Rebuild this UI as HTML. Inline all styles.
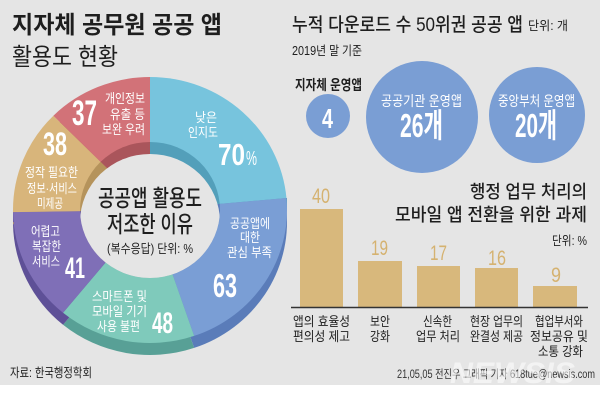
<!DOCTYPE html>
<html><head><meta charset="utf-8">
<style>
html,body{margin:0;padding:0;background:#fff;}
svg{display:block;}
text{font-family:"Liberation Sans","Noto Sans CJK KR",sans-serif;}
.w{fill:#fff;}
.d{fill:#1e1e1e;}
</style></head>
<body>
<svg width="600" height="402" viewBox="0 0 600 402" xmlns="http://www.w3.org/2000/svg">
<defs>
<clipPath id="hole"><ellipse cx="150" cy="210" rx="70" ry="68"/></clipPath>
</defs>
<rect x="0" y="0" width="600" height="385" fill="#e5e5e5"/>
<rect x="0" y="385" width="600" height="17" fill="#ffffff"/>

<!-- rim -->
<g>
<path d="M150,222 L150,89 A137,133 0 0 1 286.45,210.06 Z" fill="#539fba"/>
<path d="M150,222 L286.45,210.06 A137,133 0 0 1 194.12,347.91 Z" fill="#5a7cb9"/>
<path d="M150,222 L194.12,347.91 A137,133 0 0 1 63.05,324.78 Z" fill="#58a096"/>
<path d="M150,222 L63.05,324.78 A137,133 0 0 1 13.02,224.11 Z" fill="#5e5097"/>
<path d="M150,222 L13.02,224.11 A137,133 0 0 1 53.38,127.71 Z" fill="#b5935b"/>
<path d="M150,222 L53.38,127.71 A137,133 0 0 1 150,89 Z" fill="#aa555b"/>
<rect x="13" y="210" width="4" height="12" fill="#5e5097"/>
<rect x="283" y="198" width="4" height="12" fill="#539fba"/>
</g>
<!-- top face -->
<g>
<path d="M150,210 L150,77 A137,133 0 0 1 286.45,198.06 Z" fill="#77c4dd"/>
<path d="M150,210 L286.45,198.06 A137,133 0 0 1 194.12,335.91 Z" fill="#7a9ed5"/>
<path d="M150,210 L194.12,335.91 A137,133 0 0 1 63.05,312.78 Z" fill="#7fcabb"/>
<path d="M150,210 L63.05,312.78 A137,133 0 0 1 13.02,212.11 Z" fill="#7f6fb7"/>
<path d="M150,210 L13.02,212.11 A137,133 0 0 1 53.38,115.71 Z" fill="#d8b57b"/>
<path d="M150,210 L53.38,115.71 A137,133 0 0 1 150,77 Z" fill="#d27278"/>
</g>
<!-- hole -->
<g clip-path="url(#hole)">
<path d="M150,210 L150,77 A137,133 0 0 1 286.45,198.06 Z" fill="#539fba"/>
<path d="M150,210 L286.45,198.06 A137,133 0 0 1 194.12,335.91 Z" fill="#5a7cb9"/>
<path d="M150,210 L194.12,335.91 A137,133 0 0 1 63.05,312.78 Z" fill="#58a096"/>
<path d="M150,210 L63.05,312.78 A137,133 0 0 1 13.02,212.11 Z" fill="#5e5097"/>
<path d="M150,210 L13.02,212.11 A137,133 0 0 1 53.38,115.71 Z" fill="#b5935b"/>
<path d="M150,210 L53.38,115.71 A137,133 0 0 1 150,77 Z" fill="#aa555b"/>
<ellipse cx="150" cy="222" rx="70" ry="68" fill="#e5e5e5"/>
</g>

<!-- left titles -->
<text class="d" x="12" y="33" font-size="24" font-weight="bold" textLength="210" lengthAdjust="spacingAndGlyphs">지자체 공무원 공공 앱</text>
<text class="d" x="12" y="65" font-size="24" textLength="106" lengthAdjust="spacingAndGlyphs">활용도 현황</text>

<!-- donut labels -->
<text class="w" x="105" y="103" font-size="13" textLength="40" lengthAdjust="spacingAndGlyphs">개인정보</text>
<text class="w" x="110" y="119" font-size="13" textLength="35" lengthAdjust="spacingAndGlyphs">유출 등</text>
<text class="w" x="102" y="134" font-size="13" textLength="43" lengthAdjust="spacingAndGlyphs">보완 우려</text>
<text class="w" x="72" y="125" font-size="35" font-weight="bold" textLength="25" lengthAdjust="spacingAndGlyphs">37</text>

<text class="w" x="195" y="122" font-size="13" textLength="22" lengthAdjust="spacingAndGlyphs">낮은</text>
<text class="w" x="188" y="137" font-size="13" textLength="30" lengthAdjust="spacingAndGlyphs">인지도</text>
<text class="w" x="218" y="165" font-size="31" font-weight="bold" textLength="27" lengthAdjust="spacingAndGlyphs">70</text>
<text class="w" x="246" y="165" font-size="20" textLength="11" lengthAdjust="spacingAndGlyphs">%</text>

<text class="w" x="43" y="155" font-size="32" font-weight="bold" textLength="24" lengthAdjust="spacingAndGlyphs">38</text>
<text class="w" x="25" y="177" font-size="13" textLength="53" lengthAdjust="spacingAndGlyphs">정작 필요한</text>
<text class="w" x="27" y="193" font-size="13" textLength="50" lengthAdjust="spacingAndGlyphs">정보·서비스</text>
<text class="w" x="37" y="208" font-size="13" textLength="26" lengthAdjust="spacingAndGlyphs">미제공</text>

<text class="w" x="31" y="236" font-size="13" textLength="29" lengthAdjust="spacingAndGlyphs">어렵고</text>
<text class="w" x="32" y="251" font-size="13" textLength="29" lengthAdjust="spacingAndGlyphs">복잡한</text>
<text class="w" x="32" y="266" font-size="13" textLength="28" lengthAdjust="spacingAndGlyphs">서비스</text>
<text class="w" x="65" y="278" font-size="30" font-weight="bold" textLength="20" lengthAdjust="spacingAndGlyphs">41</text>

<text class="w" x="92" y="301" font-size="13" textLength="55" lengthAdjust="spacingAndGlyphs">스마트폰 및</text>
<text class="w" x="92" y="316" font-size="13" textLength="55" lengthAdjust="spacingAndGlyphs">모바일 기기</text>
<text class="w" x="97" y="331" font-size="13" textLength="43" lengthAdjust="spacingAndGlyphs">사용 불편</text>
<text class="w" x="152" y="333" font-size="30" font-weight="bold" textLength="21" lengthAdjust="spacingAndGlyphs">48</text>

<text class="w" x="230" y="228" font-size="13" textLength="40" lengthAdjust="spacingAndGlyphs">공공앱에</text>
<text class="w" x="240" y="242" font-size="13" textLength="20" lengthAdjust="spacingAndGlyphs">대한</text>
<text class="w" x="227" y="257" font-size="13" textLength="45" lengthAdjust="spacingAndGlyphs">관심 부족</text>
<text class="w" x="213" y="297" font-size="33" font-weight="bold" textLength="24" lengthAdjust="spacingAndGlyphs">63</text>

<!-- center -->
<text class="d" x="98" y="206" font-size="23" font-weight="500" textLength="104" lengthAdjust="spacingAndGlyphs">공공앱 활용도</text>
<text class="d" x="107" y="232" font-size="23" font-weight="500" textLength="86" lengthAdjust="spacingAndGlyphs">저조한 이유</text>
<text class="d" x="107" y="253" font-size="12.5" textLength="86" lengthAdjust="spacingAndGlyphs">(복수응답) 단위: %</text>

<text class="d" x="10" y="377" font-size="12.5" textLength="82" lengthAdjust="spacingAndGlyphs">자료: 한국행정학회</text>

<!-- right top -->
<text class="d" x="292" y="31" font-size="19" font-weight="500" textLength="231" lengthAdjust="spacingAndGlyphs">누적 다운로드 수 50위권 공공 앱</text>
<text class="d" x="528" y="30" font-size="12.5" textLength="40" lengthAdjust="spacingAndGlyphs">단위: 개</text>
<text class="d" x="292" y="55" font-size="12.5" textLength="70" lengthAdjust="spacingAndGlyphs">2019년 말 기준</text>
<text class="d" x="295" y="90" font-size="14" font-weight="bold" textLength="67" lengthAdjust="spacingAndGlyphs">지자체 운영앱</text>

<circle cx="328" cy="116" r="22" fill="#7a9ed4"/>
<circle cx="422" cy="117" r="56" fill="#7a9ed4"/>
<circle cx="537" cy="115" r="48" fill="#7a9ed4"/>
<text class="w" x="322" y="128" font-size="28" font-weight="bold" textLength="11" lengthAdjust="spacingAndGlyphs">4</text>
<text class="w" x="381" y="106" font-size="14" textLength="81" lengthAdjust="spacingAndGlyphs">공공기관 운영앱</text>
<text class="w" x="400" y="137" font-size="33" font-weight="bold" textLength="43" lengthAdjust="spacingAndGlyphs">26개</text>
<text class="w" x="498" y="106" font-size="14" textLength="77" lengthAdjust="spacingAndGlyphs">중앙부처 운영앱</text>
<text class="w" x="515" y="137" font-size="33" font-weight="bold" textLength="42" lengthAdjust="spacingAndGlyphs">20개</text>

<!-- bar chart -->
<text class="d" x="470" y="198" font-size="18" font-weight="500" textLength="117" lengthAdjust="spacingAndGlyphs">행정 업무 처리의</text>
<text class="d" x="395" y="221" font-size="18" font-weight="500" textLength="192" lengthAdjust="spacingAndGlyphs">모바일 앱 전환을 위한 과제</text>
<text class="d" x="552" y="245" font-size="12.5" textLength="35" lengthAdjust="spacingAndGlyphs">단위: %</text>

<rect x="300" y="209" width="43" height="98" fill="#d8b87c"/>
<rect x="358" y="261" width="44" height="46" fill="#d8b87c"/>
<rect x="417" y="266" width="43" height="41" fill="#d8b87c"/>
<rect x="475" y="268" width="43" height="39" fill="#d8b87c"/>
<rect x="533" y="286" width="44" height="21" fill="#d8b87c"/>
<line x1="291" y1="307.5" x2="588" y2="307.5" stroke="#333" stroke-width="1.5"/>

<g fill="#d5b270" font-size="21">
<text x="312" y="203" textLength="18" lengthAdjust="spacingAndGlyphs">40</text>
<text x="371" y="255" textLength="17" lengthAdjust="spacingAndGlyphs">19</text>
<text x="430" y="260" textLength="17" lengthAdjust="spacingAndGlyphs">17</text>
<text x="488" y="265" textLength="18" lengthAdjust="spacingAndGlyphs">16</text>
<text x="551" y="282" textLength="10" lengthAdjust="spacingAndGlyphs">9</text>
</g>

<g class="d" font-size="13">
<text x="293" y="326" textLength="57" lengthAdjust="spacingAndGlyphs">앱의 효율성</text>
<text x="293" y="341" textLength="57" lengthAdjust="spacingAndGlyphs">편의성 제고</text>
<text x="370" y="326" textLength="20" lengthAdjust="spacingAndGlyphs">보안</text>
<text x="370" y="341" textLength="20" lengthAdjust="spacingAndGlyphs">강화</text>
<text x="423" y="326" textLength="29" lengthAdjust="spacingAndGlyphs">신속한</text>
<text x="416" y="341" textLength="44" lengthAdjust="spacingAndGlyphs">업무 처리</text>
<text x="470" y="326" textLength="53" lengthAdjust="spacingAndGlyphs">현장 업무의</text>
<text x="470" y="341" textLength="53" lengthAdjust="spacingAndGlyphs">완결성 제공</text>
<text x="535" y="326" textLength="48" lengthAdjust="spacingAndGlyphs">협업부서와</text>
<text x="530" y="341" textLength="58" lengthAdjust="spacingAndGlyphs">정보공유 및</text>
<text x="538" y="356" textLength="45" lengthAdjust="spacingAndGlyphs">소통 강화</text>
</g>

<text x="397" y="378" font-size="11.5" fill="#333" textLength="198" lengthAdjust="spacingAndGlyphs">21,05,05 전진우 그래픽 기자 618tue@newsis.com</text>
<text x="450" y="383" font-size="30" font-weight="bold" font-style="italic" fill="#ffffff" fill-opacity="0.55" textLength="125" lengthAdjust="spacingAndGlyphs">NEWSIS</text>
</svg>
</body></html>
